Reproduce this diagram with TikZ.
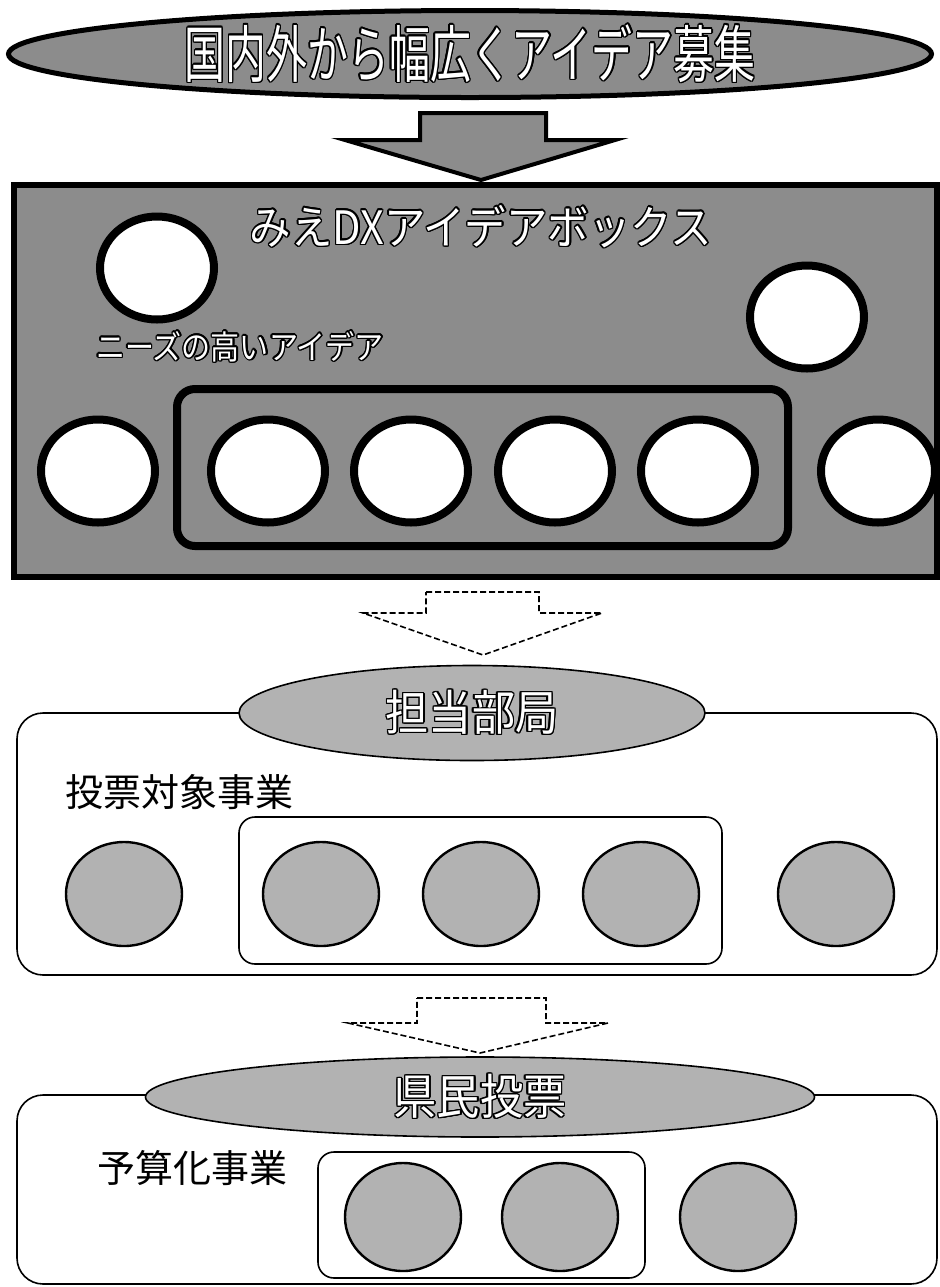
\documentclass[tikz,border=0pt]{standalone}
\usepackage{fontspec}
\setmainfont{Noto Sans CJK JP}
\usepackage{graphicx}
\usepackage{contour}
\contourlength{0.7pt}
\usetikzlibrary{shapes.geometric}

\newcommand{\glow}[2]{\contour{black}{\scalebox{#1}[1]{#2}}}

\begin{document}
\begin{tikzpicture}[x=0.5pt, y=-0.5pt,
  banner/.style={ellipse, draw, line width=2.5pt, fill=black!45, inner sep=0pt, text=white},
  ideabox/.style={draw, line width=3pt, fill=black!45, inner sep=0pt},
  idea/.style={ellipse, draw, line width=4pt, fill=white, inner sep=0pt, minimum width=57pt, minimum height=51.5pt},
  hotgroup/.style={draw, line width=4pt, rounded corners=9pt, inner sep=0pt},
  stage/.style={draw, line width=0.8pt, rounded corners=13pt, fill=white, inner sep=0pt},
  tag/.style={ellipse, draw, line width=0.8pt, fill=black!30, inner sep=0pt, text=white},
  pickgroup/.style={draw, line width=0.8pt, rounded corners=8pt, inner sep=0pt},
  project/.style={ellipse, draw, line width=1.2pt, fill=black!30, inner sep=0pt, minimum width=58pt, minimum height=52pt},
  blockarrow/.style={draw, line width=2pt, fill=black!45, line join=miter},
  flowarrow/.style={draw, dashed, line width=0.8pt, dash pattern=on 3pt off 1.5pt}]
\useasboundingbox (0,0) rectangle (940,1287);

% call for ideas
\node[banner, minimum width=461.5pt, minimum height=43.5pt, font=\fontsize{31pt}{31pt}\selectfont] (call) at (470,54) {\glow{0.66}{国内外から幅広くアイデア募集}};
\path[blockarrow] (420,113) -- (546,113) -- (546,140) -- (615,140) -- (481,180) -- (345,140) -- (420,140) -- cycle;

% idea box
\node[ideabox, minimum width=461.5pt, minimum height=196pt] (box) at (475.5,381) {};
\node[text=white, font=\fontsize{23pt}{23pt}\selectfont] (boxt) at (481,227) {\glow{0.9}{みえDXアイデアボックス}};
\node[idea] (i1) at (157,268) {};
\node[idea] (i2) at (807,317) {};
\node[text=white, font=\fontsize{16.5pt}{16.5pt}\selectfont] (needs) at (240,347) {\glow{0.88}{ニーズの高いアイデア}};
\node[hotgroup, minimum width=305.5pt, minimum height=78.5pt] (hot) at (482.5,467.5) {};
\foreach \n/\x in {3/98,4/268,5/411,6/555,7/698,8/878}
  \node[idea] (i\n) at (\x,471) {};

\path[flowarrow] (426,592) -- (539,592) -- (539,613) -- (602,613) -- (483,655) -- (363,613) -- (426,613) -- cycle;

% departments
\node[stage, minimum width=460pt, minimum height=131pt] (dept) at (477,844) {};
\node[tag, minimum width=233pt, minimum height=47.5pt, font=\fontsize{24pt}{24pt}\selectfont] (deptt) at (472,713) {\glow{0.9}{担当部局}};
\node[anchor=west, font=\fontsize{19pt}{19pt}\selectfont, inner sep=0pt] (cand) at (65,792) {投票対象事業};
\node[pickgroup, minimum width=241.5pt, minimum height=73.5pt] (pick) at (480.5,890.5) {};
\foreach \n/\x in {1/124,2/321,3/481,4/641,5/836}
  \node[project] (p\n) at (\x,894) {};

\path[flowarrow] (417,998) -- (546,998) -- (546,1023) -- (608,1023) -- (480,1053) -- (348,1023) -- (417,1023) -- cycle;

% citizens vote
\node[stage, minimum width=460pt, minimum height=94.5pt] (vote) at (477,1189.5) {};
\node[tag, minimum width=334.5pt, minimum height=40pt, font=\fontsize{24pt}{24pt}\selectfont] (votet) at (480,1097) {\glow{0.9}{県民投票}};
\node[anchor=west, font=\fontsize{19pt}{19pt}\selectfont, inner sep=0pt] (budget) at (97,1168) {予算化事業};
\node[pickgroup, minimum width=163.5pt, minimum height=63pt] (win) at (481.5,1215) {};
\foreach \n/\x in {1/403,2/560,3/738}
  \node[project, minimum height=54pt] (b\n) at (\x,1217) {};
\end{tikzpicture}
\end{document}
